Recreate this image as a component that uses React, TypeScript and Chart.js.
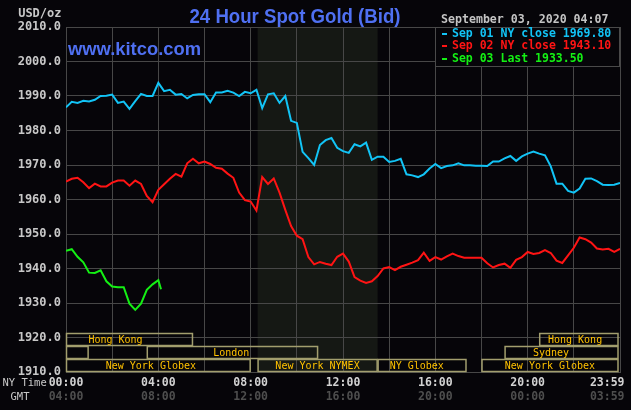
import { useEffect, useRef } from "react";
import { Chart, registerables } from "chart.js";

Chart.register(...registerables);

// 15-minute slots, NY time in hours (0 .. 24)
const slotHours: number[] = Array.from({ length: 97 }, (_, i) => i / 4);

const sep01Values = [
  1986.7, 1988.3, 1988.0, 1988.6, 1988.4, 1988.9, 1990.0, 1990.1, 1990.4, 1988.0, 1988.4, 1986.3,
  1988.5, 1990.6, 1990.0, 1990.0, 1993.8, 1991.4, 1991.8, 1990.4, 1990.6, 1989.3, 1990.3, 1990.5,
  1990.5, 1988.2, 1991.0, 1991.0, 1991.5, 1991.0, 1990.0, 1991.2, 1990.8, 1991.8, 1986.5, 1990.5,
  1990.8, 1988.0, 1990.0, 1982.8, 1982.2, 1973.8, 1972.0, 1970.0, 1975.8, 1977.2, 1977.8, 1975.0,
  1974.0, 1973.5, 1976.0, 1975.4, 1976.5, 1971.5, 1972.4, 1972.4, 1970.9, 1971.2, 1971.8, 1967.3,
  1967.0, 1966.5, 1967.3, 1969.0, 1970.3, 1969.1, 1969.7, 1969.9, 1970.5, 1969.9, 1969.9, 1969.8,
  1969.8, 1969.7, 1971.0, 1971.0, 1971.9, 1972.6, 1971.2, 1972.5, 1973.3, 1973.9, 1973.3, 1972.8,
  1969.6, 1964.6, 1964.6, 1962.5, 1962.0, 1963.2, 1966.0, 1966.1, 1965.3, 1964.3, 1964.2, 1964.3,
  1964.8,
];

const sep02Values = [
  1965.2, 1966.0, 1966.3, 1965.0, 1963.3, 1964.6, 1963.8, 1963.8, 1964.9, 1965.5, 1965.5, 1964.0,
  1965.5, 1964.5, 1961.0, 1959.2, 1962.8, 1964.4, 1966.0, 1967.4, 1966.6, 1970.5, 1971.8, 1970.5,
  1971.0, 1970.3, 1969.2, 1968.9, 1967.5, 1966.3, 1962.0, 1959.8, 1959.4, 1956.8, 1966.5, 1964.5,
  1966.1, 1962.0, 1957.0, 1952.3, 1949.5, 1948.5, 1943.3, 1941.2, 1941.9, 1941.4, 1941.0, 1943.4,
  1944.3, 1942.0, 1937.5, 1936.5, 1935.8, 1936.3, 1937.8, 1940.0, 1940.4, 1939.5, 1940.5, 1941.1,
  1941.7, 1942.4, 1944.6, 1942.2, 1943.3, 1942.6, 1943.5, 1944.3, 1943.6, 1943.1, 1943.1, 1943.1,
  1943.1, 1941.5, 1940.3, 1941.0, 1941.4, 1940.2, 1942.5, 1943.3, 1944.8, 1944.2, 1944.5, 1945.3,
  1944.5, 1942.3, 1941.6, 1943.8, 1946.0, 1949.0, 1948.5, 1947.5, 1945.8, 1945.5, 1945.7, 1944.8,
  1945.7,
];

const sep03Hours: number[] = [...slotHours.slice(0, 17), 4 + 7 / 60];
const sep03Values = [
  1945.1, 1945.6, 1943.4, 1941.8, 1938.8, 1938.7, 1939.5, 1936.3, 1934.8, 1934.6, 1934.6, 1929.8,
  1928.0, 1929.8, 1933.8, 1935.4, 1936.6, 1934.0,
];

const seriesNames = ["Sep 01 NY close 1969.80", "Sep 02 NY close 1943.10", "Sep 03 Last 1933.50"];
const seriesColors = ["#12c4f6", "#ff1414", "#14f014"];

const yMin = 1910;
const yMax = 2010;
const yStep = 10;

const xLabelHours = [0, 4, 8, 12, 16, 20, 24];
const nyTimeLabels = ["00:00", "04:00", "08:00", "12:00", "16:00", "20:00", "23:59"];
const gmtLabels = ["04:00", "08:00", "12:00", "16:00", "20:00", "00:00", "03:59"];

const sessionNames = ["Hong Kong", "Hong Kong", "", "London", "Sydney", "New York Globex", "New York NYMEX", "NY Globex", "New York Globex"];
const sessionStart = [0, 20.5, 0, 3.5, 19, 0, 8.3, 13.5, 18.0];
const sessionEnd = [5.5, 24, 0.98, 10.92, 24, 8.0, 13.5, 17.35, 24];
const sessionRow = [0, 0, 1, 1, 1, 2, 2, 2, 2];
const sessionLabelAt = [0.97, 20.88, 0, 6.38, 20.23, 1.72, 9.07, 14.02, 19.01];

const nymexShade = [8.3, 13.5];

const MONO = '"DejaVu Sans Mono", "Liberation Mono", monospace';
const SANS = '"Liberation Sans", Arial, sans-serif';

function fitText(ctx: CanvasRenderingContext2D, text: string, x: number, y: number, width: number) {
  const w = ctx.measureText(text).width;
  ctx.save();
  ctx.translate(x, y);
  ctx.scale(width / w, 1);
  ctx.fillText(text, 0, 0);
  ctx.restore();
}

const kitcoPlugin = {
  id: "kitco",
  beforeDraw(chart: any) {
    const ctx: CanvasRenderingContext2D = chart.ctx;
    const { chartArea } = chart;
    const xs = chart.scales.x;
    ctx.save();
    ctx.fillStyle = "#060509";
    ctx.fillRect(0, 0, chart.width, chart.height);
    const x0 = xs.getPixelForValue(nymexShade[0]);
    const x1 = xs.getPixelForValue(nymexShade[1]);
    ctx.fillStyle = "#151814";
    ctx.fillRect(x0, chartArea.top, x1 - x0, chartArea.bottom - chartArea.top);
    ctx.restore();
  },
  afterDraw(chart: any) {
    const ctx: CanvasRenderingContext2D = chart.ctx;
    const xs = chart.scales.x;
    const { chartArea } = chart;
    ctx.save();

    // Title
    ctx.fillStyle = "#4f70f2";
    ctx.textBaseline = "alphabetic";
    ctx.textAlign = "left";
    ctx.font = `bold 21px ${SANS}`;
    fitText(ctx, "24 Hour Spot Gold (Bid)", 189.5, 22.7, 211);
    ctx.font = `bold 18.5px ${SANS}`;
    fitText(ctx, "www.kitco.com", 68, 55, 133);

    // USD/oz
    ctx.fillStyle = "#c8c8c8";
    ctx.font = `bold 12px ${MONO}`;
    ctx.textAlign = "right";
    ctx.textBaseline = "middle";
    ctx.fillText("USD/oz", 61.5, 13.5);

    // Date
    ctx.textAlign = "left";
    ctx.font = `bold 11.6px ${MONO}`;
    ctx.fillStyle = "#c4c4c4";
    ctx.fillText("September 03, 2020 04:07", 441, 20);

    // Legend box
    ctx.fillStyle = "#060509";
    ctx.fillRect(436, 28, 183, 38);
    ctx.strokeStyle = "#4a4a4a";
    ctx.lineWidth = 1;
    ctx.strokeRect(435.5, chartArea.top + 0.5, 184, 39);
    const rowsY = [34.3, 46.3, 59.3];
    ctx.font = `bold 11.5px ${MONO}`;
    seriesNames.forEach((name, i) => {
      ctx.fillStyle = seriesColors[i];
      ctx.fillRect(442, Math.round(rowsY[i]) - 1, 5, 2);
      ctx.fillText(name, 452, rowsY[i]);
    });

    // Session boxes
    const rowTop = [333, 346, 359];
    const rowBottom = [346, 359, 372];
    ctx.strokeStyle = "#a29e6e";
    ctx.lineWidth = 1.5;
    sessionNames.forEach((name, i) => {
      const r = sessionRow[i];
      const a = xs.getPixelForValue(sessionStart[i]);
      const b = Math.min(xs.getPixelForValue(sessionEnd[i]), 618.5);
      ctx.strokeRect(a + 0.5, rowTop[r] + 0.5, b - a - 1, rowBottom[r] - rowTop[r] - 1);
    });
    ctx.fillStyle = "#ffc200";
    ctx.font = `10px ${MONO}`;
    ctx.textAlign = "left";
    sessionNames.forEach((name, i) => {
      if (!name) return;
      const r = sessionRow[i];
      const x = xs.getPixelForValue(sessionLabelAt[i]);
      ctx.fillText(name, x, (rowTop[r] + rowBottom[r]) / 2 + 0.5);
    });

    // X labels
    ctx.font = `10.5px ${MONO}`;
    ctx.fillStyle = "#c8c8c8";
    ctx.textAlign = "left";
    ctx.fillText("NY Time", 2.5, 383.5);
    ctx.fillText("GMT", 10.5, 397.5);
    ctx.font = `bold 11.5px ${MONO}`;
    xLabelHours.forEach((h, i) => {
      const px = xs.getPixelForValue(h);
      ctx.textAlign = "center";
      let cx = px;
      const w = ctx.measureText(nyTimeLabels[i]).width;
      if (cx + w / 2 > 624.5) cx = 624.5 - w / 2;
      ctx.fillStyle = "#d2d2d2";
      ctx.fillText(nyTimeLabels[i], cx, 383);
      ctx.fillStyle = "#4e4e4e";
      ctx.fillText(gmtLabels[i], cx, 397.5);
    });

    ctx.restore();
  },
};

export default function App() {
  const ref = useRef<HTMLCanvasElement | null>(null);

  useEffect(() => {
    if (!ref.current) return;
    const chart = new Chart(ref.current, {
      type: "line",
      data: {
        datasets: [
          {
            label: seriesNames[0],
            data: slotHours.map((h, i) => ({ x: h, y: sep01Values[i] })),
            borderColor: seriesColors[0],
            borderWidth: 2,
            pointRadius: 0,
            tension: 0,
          },
          {
            label: seriesNames[1],
            data: slotHours.map((h, i) => ({ x: h, y: sep02Values[i] })),
            borderColor: seriesColors[1],
            borderWidth: 2,
            pointRadius: 0,
            tension: 0,
          },
          {
            label: seriesNames[2],
            data: sep03Hours.map((h, i) => ({ x: h, y: sep03Values[i] })),
            borderColor: seriesColors[2],
            borderWidth: 2,
            pointRadius: 0,
            tension: 0,
          },
        ],
      },
      options: {
        responsive: false,
        animation: false,
        devicePixelRatio: 1,
        layout: { padding: { left: 0, right: 11, top: 27, bottom: 38 } },
        plugins: { legend: { display: false }, tooltip: { enabled: false }, title: { display: false } },
        scales: {
          x: {
            type: "linear",
            min: 0,
            max: 24,
            ticks: { display: false, stepSize: 2 },
            grid: { color: "#474747", lineWidth: 1, drawTicks: false },
            border: { color: "#474747" },
            afterFit: (s: any) => {
              s.height = 0;
            },
          },
          y: {
            type: "linear",
            min: yMin,
            max: yMax,
            ticks: {
              stepSize: yStep,
              padding: 5,
              color: "#c8c8c8",
              font: { family: MONO, size: 12, weight: "bold" },
              callback: (v: any) => Number(v).toFixed(1),
            },
            grid: { color: "#474747", lineWidth: 1, drawTicks: false },
            border: { color: "#474747" },
            afterFit: (s: any) => {
              s.width = 66;
            },
          },
        },
      },
      plugins: [kitcoPlugin],
    } as any);
    return () => chart.destroy();
  }, []);

  return (
    <canvas
      ref={ref}
      width={631}
      height={410}
      style={{ position: "fixed", left: 0, top: 0, width: 631, height: 410, display: "block" }}
    />
  );
}
